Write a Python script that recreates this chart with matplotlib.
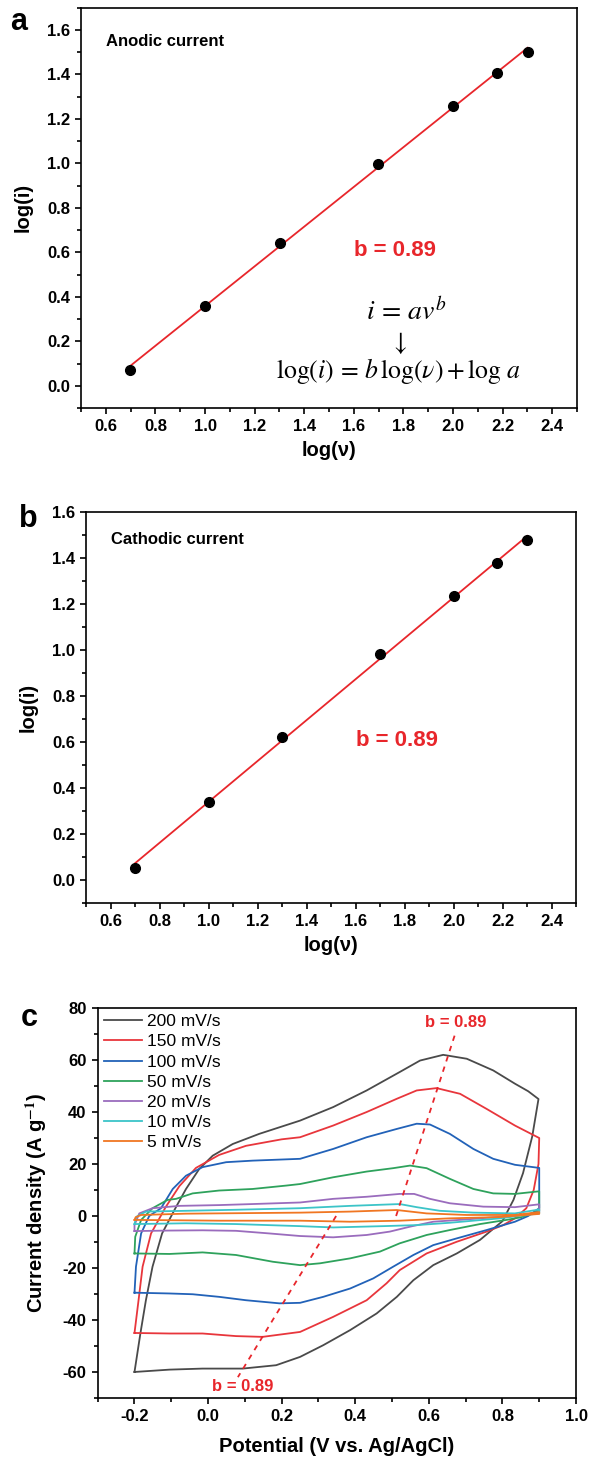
import numpy as np
import matplotlib
matplotlib.use("Agg")
import matplotlib.pyplot as plt
from matplotlib.ticker import MultipleLocator, FormatStrFormatter

plt.rcParams['font.family'] = ['Liberation Sans', 'DejaVu Sans']
plt.rcParams['axes.unicode_minus'] = False
plt.rcParams['mathtext.fontset'] = 'stix'

# log of scan rate (5, 10, 20, 50, 100, 150, 200 mV/s)
log_v = [0.699, 1.0, 1.301, 1.699, 2.0, 2.176, 2.301]
log_i_anodic = [0.071, 0.361, 0.643, 0.999, 1.258, 1.405, 1.502]
log_i_cathodic = [0.053, 0.342, 0.625, 0.985, 1.236, 1.379, 1.478]

# CV loops (start at -0.2 V, forward then reverse)
rates = ["200 mV/s", "150 mV/s", "100 mV/s", "50 mV/s", "20 mV/s", "10 mV/s", "5 mV/s"]
colors = ['#4a4a4a', '#e8363c', '#2262b8', '#2ea25c', '#9a6cbd', '#3cc4c8', '#f07622']

e_200 = [-0.2, -0.184, -0.169, -0.151, -0.125, -0.087, -0.06, -0.024, 0.0125, 0.067, 0.139, 0.25,
         0.34, 0.431, 0.521, 0.576, 0.639, 0.703, 0.775, 0.834, 0.87, 0.898, 0.881, 0.856, 0.83,
         0.8, 0.739, 0.676, 0.612, 0.558, 0.513, 0.458, 0.386, 0.313, 0.25, 0.185, 0.094, -0.015,
         -0.105, -0.2]
j_200 = [-60, -45.2, -32.4, -19.5, -6.7, 3.5, 10.4, 18.1, 23.2, 27.7, 31.6, 36.7,
         41.9, 48.3, 55.4, 59.8, 62.0, 60.5, 56.0, 50.9, 48.0, 45.0, 30.6, 16.5, 6.2,
         -2.0, -9.2, -14.4, -18.9, -24.7, -31.1, -37.5, -43.9, -49.7, -54.2, -57.4, -58.7, -58.7,
         -59.1, -60]

e_150 = [-0.2, -0.189, -0.178, -0.155, -0.115, -0.078, -0.033, 0.03, 0.103, 0.2, 0.25, 0.34,
         0.431, 0.513, 0.567, 0.621, 0.685, 0.757, 0.834, 0.9, 0.898, 0.885, 0.865, 0.834, 0.802,
         0.757, 0.676, 0.594, 0.521, 0.485, 0.431, 0.34, 0.25, 0.148, 0.076, -0.015, -0.105, -0.2]
j_150 = [-45, -32.4, -19.5, -6.7, 3.5, 11.5, 18.5, 23.5, 27.0, 29.5, 30.3, 34.8,
         40.0, 45.1, 48.3, 49.2, 47.0, 41.2, 34.8, 30.0, 20.0, 10.0, 3.0, -0.9, -3.5,
         -6.0, -9.9, -14.4, -20.8, -25.9, -32.4, -38.8, -44.6, -46.5, -46.2, -45.2, -45.2, -45]

e_100 = [-0.2, -0.196, -0.182, -0.16, -0.128, -0.096, -0.06, -0.015, 0.049, 0.121, 0.25, 0.34,
         0.431, 0.513, 0.567, 0.603, 0.657, 0.721, 0.775, 0.834, 0.9, 0.9, 0.87, 0.834, 0.757,
         0.676, 0.612, 0.558, 0.503, 0.449, 0.386, 0.313, 0.25, 0.194, 0.103, 0.03, -0.042,
         -0.105, -0.2]
j_100 = [-29.5, -19.5, -6.7, 0.0, 3.0, 10.4, 15.5, 18.8, 20.7, 21.3, 22.0, 25.8,
         30.3, 33.5, 35.5, 35.2, 31.6, 25.8, 22.0, 19.7, 18.5, 3.0, 0.0, -2.2, -5.4,
         -8.6, -11.2, -15.0, -19.5, -24.0, -27.9, -31.1, -33.4, -33.6, -32.4, -31.1, -30.1,
         -29.8, -29.5]

e_50 = [-0.2, -0.198, -0.182, -0.151, -0.11, -0.087, -0.042, 0.03, 0.121, 0.212, 0.25, 0.34,
        0.431, 0.503, 0.549, 0.594, 0.657, 0.721, 0.775, 0.834, 0.9, 0.9, 0.85, 0.811, 0.739,
        0.657, 0.594, 0.521, 0.467, 0.386, 0.304, 0.25, 0.176, 0.076, -0.015, -0.105, -0.2]
j_50 = [-14.4, -8.0, -1.5, 3.0, 6.2, 6.6, 8.7, 9.8, 10.4, 11.7, 12.3, 14.9,
        17.1, 18.4, 19.4, 18.4, 14.3, 10.4, 8.7, 8.5, 9.5, 2.0, -0.5, -1.5, -3.1,
        -5.4, -7.3, -10.5, -13.7, -16.3, -18.2, -18.9, -17.6, -15.0, -14.0, -14.6, -14.4]

e_20 = [-0.2, -0.2, -0.187, -0.151, -0.078, 0.03, 0.121, 0.25, 0.34, 0.431, 0.521, 0.56,
        0.603, 0.657, 0.748, 0.834, 0.9, 0.9, 0.85, 0.793, 0.703, 0.612, 0.549, 0.494, 0.431,
        0.34, 0.25, 0.166, 0.076, -0.015, -0.105, -0.2]
j_20 = [-5.8, -3.5, 1.0, 3.0, 3.9, 4.2, 4.6, 5.2, 6.6, 7.4, 8.5, 8.5,
        6.6, 4.9, 3.6, 3.4, 4.5, 1.5, 0.3, -0.3, -1.3, -2.2, -4.1, -6.0, -7.3,
        -8.2, -7.7, -6.7, -5.7, -5.5, -5.6, -5.8]

e_10 = [-0.2, -0.195, -0.169, -0.06, 0.076, 0.25, 0.386, 0.521, 0.567, 0.63, 0.721, 0.834,
        0.9, 0.9, 0.793, 0.657, 0.567, 0.476, 0.34, 0.25, 0.076, -0.06, -0.2]
j_10 = [-3.1, -0.3, 1.7, 2.0, 2.4, 3.0, 3.9, 4.6, 3.4, 2.0, 1.3, 1.0,
        2.5, 1.0, -0.9, -2.6, -3.5, -3.9, -4.4, -3.9, -3.1, -2.8, -3.1]

e_5 = [-0.2, -0.197, -0.182, -0.06, 0.252, 0.386, 0.513, 0.594, 0.703, 0.834, 0.9, 0.9,
       0.793, 0.657, 0.521, 0.386, 0.25, 0.03, -0.2]
j_5 = [-1.5, -0.5, 0.4, 0.9, 1.3, 1.7, 2.3, 1.0, 0.4, 0.4, 1.5, 0.8,
       -0.4, -0.9, -1.8, -2.2, -1.8, -1.8, -1.5]

# dashed guides through the peaks
peak_ox_e = [0.511, 0.673]
peak_ox_j = [0.0, 70.7]
peak_red_e = [0.348, 0.081]
peak_red_j = [0.0, -62.0]

red = '#e8262b'

fig = plt.figure(figsize=(5.9, 14.62), dpi=100)


def style_axes(ax):
    for s in ax.spines.values():
        s.set_linewidth(1.2)
    ax.tick_params(which='both', direction='out', width=1.2, labelsize=12,
                   top=False, right=False)
    ax.tick_params(which='major', length=4.5)
    ax.tick_params(which='minor', length=2.8)
    for lab in ax.get_xticklabels() + ax.get_yticklabels():
        lab.set_fontweight('bold')


def fit_panel(ax, y, title, title_y):
    ax.plot(log_v, y, 'o', color='black', markersize=7, zorder=3)
    k, c = np.polyfit(log_v, y, 1)
    xx = np.array([log_v[0], log_v[-1]])
    ax.plot(xx, k * xx + c, color=red, lw=1.3, zorder=2)
    ax.set_xlim(0.5, 2.5)
    ax.xaxis.set_major_locator(MultipleLocator(0.2))
    ax.xaxis.set_minor_locator(MultipleLocator(0.1))
    ax.yaxis.set_major_locator(MultipleLocator(0.2))
    ax.yaxis.set_minor_locator(MultipleLocator(0.1))
    ax.xaxis.set_major_formatter(FormatStrFormatter('%.1f'))
    ax.yaxis.set_major_formatter(FormatStrFormatter('%.1f'))
    ax.set_xticks([0.6, 0.8, 1.0, 1.2, 1.4, 1.6, 1.8, 2.0, 2.2, 2.4])
    ax.set_xlabel('log(ν)', fontsize=14.5, fontweight='bold', labelpad=5)
    ax.set_ylabel('log(i)', fontsize=14.5, fontweight='bold', labelpad=10)
    ax.text(0.6, title_y, title, fontsize=12, fontweight='bold', va='center', ha='left')
    ax.text(1.6, 0.61, 'b = 0.89', color=red, fontsize=16, fontweight='bold',
            va='center', ha='left')
    style_axes(ax)


# panel a
ax_a = fig.add_axes([0.1373, 0.7209, 0.8407, 0.2738])
ax_a.set_ylim(-0.1, 1.7)
fit_panel(ax_a, log_i_anodic, 'Anodic current', 1.547)
ax_a.text(1.81, 0.33, r'$i\,=\,av^{b}$', fontsize=20, ha='center', va='center')
ax_a.text(1.78, 0.19, r'$\downarrow$', fontsize=19, ha='center', va='center')
ax_a.text(1.78, 0.068, r'$\log(i)\,=\,b\,\log(\nu)+\log\,a$', fontsize=18.5,
          ha='center', va='center')

# panel b
ax_b = fig.add_axes([0.1458, 0.3821, 0.8305, 0.2675])
ax_b.set_ylim(-0.1, 1.6)
fit_panel(ax_b, log_i_cathodic, 'Cathodic current', 1.483)

# panel c
ax_c = fig.add_axes([0.1656, 0.0438, 0.8107, 0.2667])
loops = [(e_200, j_200), (e_150, j_150), (e_100, j_100), (e_50, j_50),
         (e_20, j_20), (e_10, j_10), (e_5, j_5)]
for (e, j), lab, col in zip(loops, rates, colors):
    ax_c.plot(e, j, color=col, lw=1.3, label=lab)
ax_c.plot(peak_ox_e, peak_ox_j, '--', color=red, lw=1.3, dashes=(3, 3))
ax_c.plot(peak_red_e, peak_red_j, '--', color=red, lw=1.3, dashes=(3, 3))
ax_c.text(0.673, 74.6, 'b = 0.89', color=red, fontsize=12, fontweight='bold',
          ha='center', va='center')
ax_c.text(0.094, -65.5, 'b = 0.89', color=red, fontsize=12, fontweight='bold',
          ha='center', va='center')
ax_c.set_xlim(-0.3, 1.0)
ax_c.set_ylim(-70, 80)
ax_c.xaxis.set_major_locator(MultipleLocator(0.2))
ax_c.xaxis.set_minor_locator(MultipleLocator(0.1))
ax_c.yaxis.set_major_locator(MultipleLocator(20))
ax_c.yaxis.set_minor_locator(MultipleLocator(10))
ax_c.set_xticks([-0.2, 0.0, 0.2, 0.4, 0.6, 0.8, 1.0])
ax_c.set_yticks([-60, -40, -20, 0, 20, 40, 60, 80])
ax_c.xaxis.set_major_formatter(FormatStrFormatter('%.1f'))
ax_c.set_xlabel('Potential (V vs. Ag/AgCl)', fontsize=14.5, fontweight='bold', labelpad=9)
ax_c.set_ylabel(r'Current density (A g$^{\mathbf{-1}}$)', fontsize=14.5, fontweight='bold',
                labelpad=10)
ax_c.legend(loc='upper left', frameon=False, fontsize=12.5, handlelength=2.2,
            labelspacing=0.29, borderaxespad=0.15, handletextpad=0.3, borderpad=0.2)
style_axes(ax_c)

# panel letters
fig.text(19 / 590, 1 - 22 / 1462, 'a', fontsize=22, fontweight='bold', ha='center', va='center')
fig.text(28 / 590, 1 - 519 / 1462, 'b', fontsize=22, fontweight='bold', ha='center', va='center')
fig.text(29 / 590, 1 - 1018 / 1462, 'c', fontsize=22, fontweight='bold', ha='center', va='center')

fig.savefig('out.png', dpi=100)
